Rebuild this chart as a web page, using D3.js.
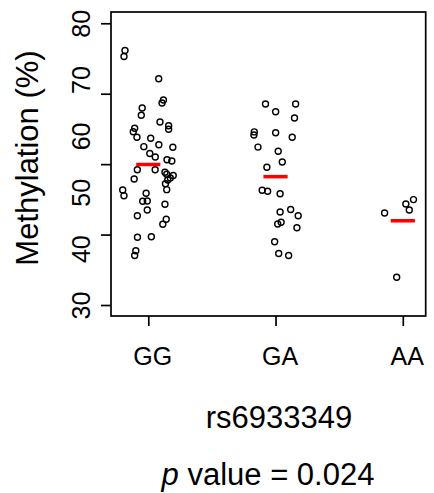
<!DOCTYPE html>
<html>
<head>
<meta charset="utf-8">
<script src="https://cdn.jsdelivr.net/npm/d3@7"></script>
<style>
  body { margin: 0; background: #fff; }
  text { font-family: "Liberation Sans", Arial, sans-serif; fill: #000; }
</style>
</head>
<body>
<div class="chart"></div>
<script>
var svgWidth = 434;
var svgHeight = 493;

// genotype groups
var categories = ["GG", "GA", "AA"];

// methylation values (%), with the horizontal jitter of each point
var ggValues = [75.17, 74.10, 70.16, 66.38, 65.85, 64.96, 63.67, 62.48, 61.80, 61.20,
  61.36, 60.74, 59.76, 59.59, 58.10, 58.43, 58.01, 56.89, 56.27, 55.79,
  55.56, 54.01, 54.01, 53.55, 53.20, 52.98, 52.54, 52.19, 52.36, 51.51,
  50.47, 50.41, 49.38, 49.83, 48.41, 48.46, 46.86, 45.85, 47.89, 45.23,
  44.34, 42.02, 42.12, 39.62, 38.79];
var ggJitter = [-0.183, -0.191, 0.082, 0.119, 0.108, -0.048, -0.055, 0.092, 0.160, 0.160,
  -0.107, -0.118, -0.089, 0.019, -0.035, 0.083, 0.193, 0.012, 0.055, 0.147,
  0.185, -0.086, 0.054, 0.131, 0.145, 0.196, 0.173, 0.153, -0.111, 0.135,
  0.145, -0.201, -0.191, -0.017, -0.044, -0.008, -0.008, -0.086, 0.131, 0.141,
  0.114, -0.085, 0.024, -0.098, -0.107];

var gaValues = [65.67, 65.67, 64.31, 63.19, 60.72, 60.17, 60.56, 59.76, 58.02, 57.28,
  55.38, 54.44, 50.36, 50.18, 49.74, 46.95, 46.51, 45.85, 44.68, 44.38,
  43.72, 41.24, 39.14, 38.79];
var gaJitter = [-0.079, 0.158, 0.001, 0.149, -0.167, -0.170, 0.001, 0.131, -0.138, 0.021,
  0.053, -0.068, -0.105, -0.062, 0.036, 0.119, 0.036, 0.178, 0.044, 0.017,
  0.168, -0.007, 0.025, 0.103];

var aaValues = [46.33, 47.93, 48.71, 46.86, 34.92];
var aaJitter = [-0.143, 0.024, 0.084, 0.051, -0.048];

// axis ticks and labels
var yTickMarks = [80, 67.5, 55, 42.5, 30];
var yTickLabels = [30, 40, 50, 60, 70, 80];

var xTitle = "rs6933349";
var pValue = "0.024";

var margin = { top: 12, right: 8.3, bottom: 177, left: 111 };
var width = svgWidth - margin.left - margin.right;
var height = svgHeight - margin.top - margin.bottom;

var svg = d3.select(".chart")
  .append("svg")
  .attr("width", svgWidth)
  .attr("height", svgHeight);

var chartGroup = svg.append("g").attr("transform", `translate(${margin.left}, ${margin.top})`);

var groups = [ggValues, gaValues, aaValues];
var jitters = [ggJitter, gaJitter, aaJitter];

var points = [];
groups.forEach(function(vals, gi) {
  vals.forEach(function(v, i) {
    points.push({ pos: gi + 1 + jitters[gi][i], value: v });
  });
});

var xScale = d3.scaleLinear().domain([0.707, 3.18]).range([0, width]);
var yScale = d3.scaleLinear().domain([28.05, 82.0]).range([height, 0]);

// box
chartGroup.append("rect")
  .attr("x", 0)
  .attr("y", 0)
  .attr("width", width)
  .attr("height", height)
  .attr("fill", "none")
  .attr("stroke", "#000")
  .attr("stroke-width", 1.7);

// y axis: tick marks
var yAxis = d3.axisLeft(yScale).tickValues(yTickMarks).tickSize(10).tickFormat("");
var yg = chartGroup.append("g").call(yAxis);
yg.select(".domain").remove();
yg.selectAll("line").attr("stroke", "#000").attr("stroke-width", 1.7);

// y axis: labels (rotated, as in the original)
var yLab = d3.axisLeft(yScale).tickValues(yTickLabels).tickSize(0).tickFormat(d3.format("d"));
var ylg = chartGroup.append("g").call(yLab);
ylg.select(".domain").remove();
ylg.selectAll("text")
  .attr("transform", "rotate(-90)")
  .attr("x", 0)
  .attr("y", -21)
  .attr("dy", 0)
  .attr("text-anchor", "middle")
  .style("font-size", "25px")
  .style("font-family", "'Liberation Sans', Arial, sans-serif");

// x axis
var xAxis = d3.axisBottom(xScale)
  .tickValues([1, 2, 3])
  .tickSize(10)
  .tickFormat(function(d) { return categories[d - 1]; });
var xg = chartGroup.append("g").attr("transform", `translate(0, ${height})`).call(xAxis);
xg.select(".domain").remove();
xg.selectAll("line").attr("stroke", "#000").attr("stroke-width", 1.7);
xg.selectAll("text")
  .attr("y", 49)
  .attr("dy", 0)
  .attr("dx", 4)
  .style("font-size", "25px")
  .style("font-family", "'Liberation Sans', Arial, sans-serif");

// points
chartGroup.selectAll("circle")
  .data(points)
  .enter()
  .append("circle")
  .attr("cx", d => xScale(d.pos))
  .attr("cy", d => yScale(d.value))
  .attr("r", 3)
  .attr("fill", "none")
  .attr("stroke", "#000")
  .attr("stroke-width", 1.4);

// group means
chartGroup.selectAll(".mean")
  .data(groups)
  .enter()
  .append("line")
  .attr("class", "mean")
  .attr("x1", (d, i) => xScale(i + 1 - 0.095))
  .attr("x2", (d, i) => xScale(i + 1 + 0.095))
  .attr("y1", d => yScale(d3.mean(d)))
  .attr("y2", d => yScale(d3.mean(d)))
  .attr("stroke", "#ff0000")
  .attr("stroke-width", 3.5);

// titles
svg.append("text")
  .attr("transform", "translate(38, 158) rotate(-90)")
  .attr("text-anchor", "middle")
  .style("font-size", "31px")
  .text("Methylation (%)");

svg.append("text")
  .attr("x", 279)
  .attr("y", 428)
  .attr("text-anchor", "middle")
  .style("font-size", "31px")
  .text(xTitle);

var pText = svg.append("text")
  .attr("x", 268)
  .attr("y", 485)
  .attr("text-anchor", "middle")
  .style("font-size", "31px");
pText.append("tspan").style("font-style", "italic").text("p");
pText.append("tspan").text(" value = " + pValue);
</script>
</body>
</html>
